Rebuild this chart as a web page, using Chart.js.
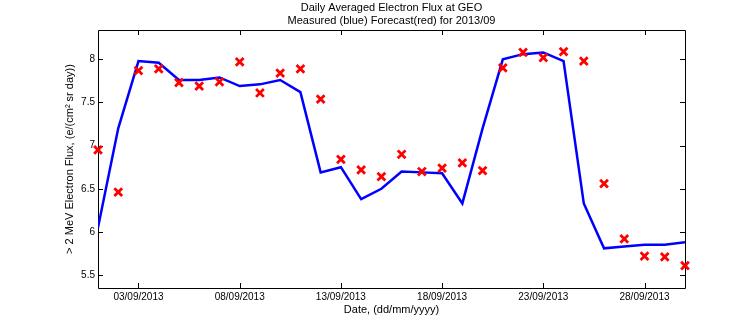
<!DOCTYPE html>
<html>
<head>
<meta charset="utf-8">
<script src="https://cdn.jsdelivr.net/npm/chart.js@4/dist/chart.umd.min.js"></script>
<style>
html,body{margin:0;padding:0;background:#fff;}
#wrap{width:756px;height:324px;}
</style>
</head>
<body>
<div id="wrap"><canvas id="c" width="756" height="324"></canvas></div>
<script>
const days = [1,2,3,4,5,6,7,8,9,10,11,12,13,14,15,16,17,18,19,20,21,22,23,24,25,26,27,28,29,30];
const measured = [6.05,7.20,7.98,7.96,7.76,7.76,7.79,7.69,7.71,7.76,7.62,6.69,6.75,6.38,6.50,6.70,6.69,6.68,6.33,7.20,8.00,8.06,8.08,7.98,6.33,5.81,5.83,5.85,5.85,5.88];
const forecast = [6.95,6.46,7.87,7.89,7.73,7.69,7.74,7.97,7.61,7.84,7.89,7.54,6.84,6.72,6.64,6.90,6.70,6.74,6.80,6.71,7.90,8.08,8.02,8.09,7.98,6.56,5.92,5.72,5.71,5.61];
const xTickDays = [3,8,13,18,23,28];
const xTickLabels = ['03/09/2013','08/09/2013','13/09/2013','18/09/2013','23/09/2013','28/09/2013'];
const yTickValues = [5.5,6,6.5,7,7.5,8];
const yTickLabels = ['5.5','6','6.5','7','7.5','8'];

const FONT = 'Liberation Sans, Arial, Helvetica, sans-serif';

const framePlugin = {
  id: 'frame',
  beforeDatasetsDraw(chart) {
    const {ctx, chartArea: a, scales: {x, y}} = chart;
    ctx.save();
    ctx.strokeStyle = '#000';
    ctx.lineWidth = 1;
    ctx.beginPath();
    ctx.rect(Math.round(a.left) + 0.5, Math.round(a.top) + 0.5, Math.round(a.right - a.left), Math.round(a.bottom - a.top));
    const L = 5;
    xTickDays.forEach(d => {
      const px = Math.round(x.getPixelForValue(d)) + 0.5;
      ctx.moveTo(px, a.bottom); ctx.lineTo(px, a.bottom - L);
      ctx.moveTo(px, a.top); ctx.lineTo(px, a.top + L);
    });
    yTickValues.forEach(v => {
      const py = Math.round(y.getPixelForValue(v)) + 0.5;
      ctx.moveTo(a.left, py); ctx.lineTo(a.left + L, py);
      ctx.moveTo(a.right, py); ctx.lineTo(a.right - L, py);
    });
    ctx.stroke();
    ctx.restore();
  }
};

new Chart(document.getElementById('c'), {
  type: 'line',
  data: {
    datasets: [
      {
        label: 'Measured',
        data: days.map((d, i) => ({x: d, y: measured[i]})),
        borderColor: 'rgb(0,0,255)',
        borderWidth: 2.5,
        pointRadius: 0,
        fill: false,
        tension: 0,
        order: 2
      },
      {
        label: 'Forecast',
        data: days.map((d, i) => ({x: d, y: forecast[i]})),
        showLine: false,
        clip: false,
        pointStyle: 'crossRot',
        pointRadius: 5.5,
        pointBorderWidth: 2.8,
        borderColor: 'rgb(255,0,0)',
        backgroundColor: 'rgb(255,0,0)',
        order: 1
      }
    ]
  },
  options: {
    responsive: false,
    animation: false,
    events: [],
    layout: {padding: {left: 63, right: 71, top: 0, bottom: 0}},
    plugins: {
      legend: {display: false},
      tooltip: {enabled: false},
      title: {
        display: true,
        fullSize: false,
        text: ['Daily Averaged Electron Flux at GEO', 'Measured (blue) Forecast(red) for 2013/09'],
        color: '#000',
        font: {family: FONT, size: 11, weight: 'normal', lineHeight: 1.2},
        padding: {top: 1, bottom: 2.6}
      }
    },
    scales: {
      x: {
        type: 'linear',
        min: 1,
        max: 30,
        afterBuildTicks(s) { s.ticks = xTickDays.map(v => ({value: v})); },
        afterFit(s) { s.height = 36; },
        ticks: {
          autoSkip: false,
          maxRotation: 0,
          padding: 3,
          color: '#000',
          font: {family: FONT, size: 10},
          callback(v) { const i = xTickDays.indexOf(v); return i >= 0 ? xTickLabels[i] : ''; }
        },
        grid: {display: false, drawTicks: false},
        border: {display: false},
        title: {
          display: true,
          text: 'Date, (dd/mm/yyyy)',
          color: '#000',
          font: {family: FONT, size: 11},
          padding: {top: 0, bottom: 7}
        }
      },
      y: {
        type: 'linear',
        min: 5.35,
        max: 8.34,
        afterBuildTicks(s) { s.ticks = yTickValues.map(v => ({value: v})); },
        afterFit(s) { s.width = 35; },
        ticks: {
          autoSkip: false,
          padding: 3,
          color: '#000',
          font: {family: FONT, size: 10},
          callback(v) { const i = yTickValues.indexOf(v); return i >= 0 ? yTickLabels[i] : ''; }
        },
        grid: {display: false, drawTicks: false},
        border: {display: false},
        title: {
          display: true,
          text: '> 2 MeV Electron Flux, (e/(cm² sr day))',
          color: '#000',
          font: {family: FONT, size: 11},
          padding: 0
        }
      }
    }
  },
  plugins: [framePlugin]
});
</script>
</body>
</html>
